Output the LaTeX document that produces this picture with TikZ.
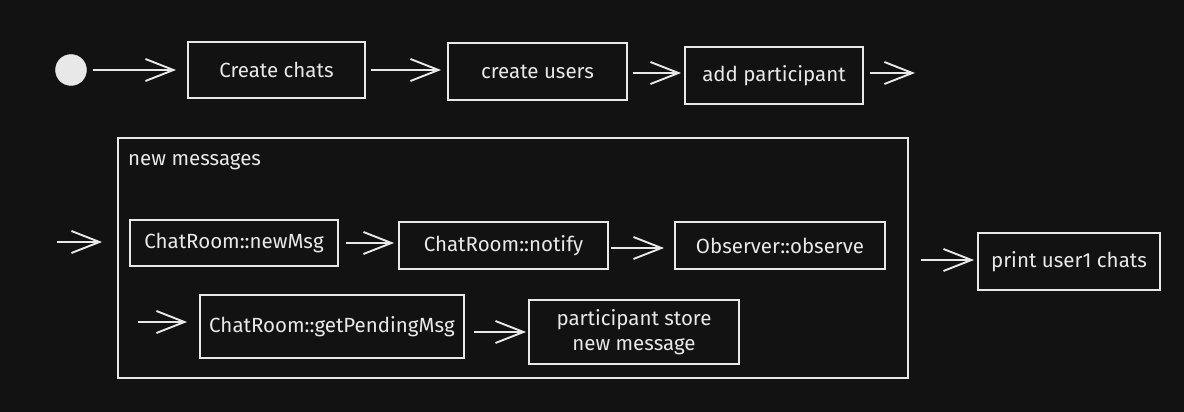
\documentclass[tikz,border=0pt]{standalone}
\usepackage{fontspec}
\setmainfont{Fira Sans}
\usetikzlibrary{arrows.meta}
\definecolor{bg}{HTML}{121212}
\definecolor{ink}{HTML}{E8E8E8}
\begin{document}
\begin{tikzpicture}[x=1pt,y=-1pt,
  every node/.style={text=ink,font=\fontsize{20.5}{25}\selectfont},
  box/.style={draw=ink,line width=1.9pt,fill=bg,inner sep=2pt,align=center},
  flow/.style={draw=ink,line width=1.9pt,-{Straight Barb[length=28pt,width=22pt,line width=1.9pt]}},
]
\fill[bg] (0,0) rectangle (1184,412);
\useasboundingbox (0,0) rectangle (1184,412);

% top row
\node[circle,fill=ink,draw=ink,minimum size=31pt,inner sep=0pt] (start) at (71,70) {};
\node[box,minimum width=177pt,minimum height=56pt] (chats) at (276.5,70) {Create chats};
\node[box,minimum width=179pt,minimum height=57pt] (users) at (537.5,71.5) {create users};
\node[box,minimum width=178pt,minimum height=57pt] (part) at (774,75.5) {add participant};
\coordinate (topend) at (915,73);

\draw[flow,shorten <=6pt,shorten >=11pt] (start.east) -- (chats.west |- start.east);
\draw[flow,shorten <=5pt,shorten >=6pt] (chats.east) -- (users.west |- chats.east);
\draw[flow,shorten <=5pt,shorten >=3pt] (users.east |- 0,73) -- (part.west |- 0,73);
\draw[flow,shorten <=6pt] (part.east |- topend) -- (topend);

% frame
\node[draw=ink,line width=1.9pt,minimum width=790pt,minimum height=240pt,inner sep=0pt] (frame) at (513,258) {};
\node[anchor=west,inner sep=0pt] (framelabel) at (128,162) {new messages};
\coordinate (inA) at (57,242);
\coordinate (inB) at (138,322);

\node[box,minimum width=208pt,minimum height=46pt] (newmsg) at (234,243) {ChatRoom::newMsg};
\node[box,minimum width=209pt,minimum height=47pt] (notify) at (503.5,245.5) {ChatRoom::notify};
\node[box,minimum width=210pt,minimum height=47pt] (observe) at (780,245.5) {Observer::observe};
\node[box,minimum width=264pt,minimum height=63pt] (pending) at (332,326.5) {ChatRoom::getPendingMsg};
\node[box,minimum width=210pt,minimum height=64pt] (store) at (634,332) {participant store\\new message};
\node[box,minimum width=182pt,minimum height=57pt] (print) at (1069,261.5) {print user1 chats};

\draw[flow,shorten >=15pt] (inA) -- (frame.west |- inA);
\draw[flow,shorten <=7pt,shorten >=4pt] (newmsg.east) -- (notify.west |- newmsg.east);
\draw[flow,shorten <=2pt,shorten >=10pt] (notify.east |- 0,248) -- (observe.west |- 0,248);
\draw[flow,shorten >=12pt] (inB) -- (pending.west |- inB);
\draw[flow,shorten <=9pt,shorten >=2pt] (pending.east |- 0,332) -- (store.west |- 0,332);
\draw[flow,shorten <=12pt,shorten >=3pt] (frame.east |- 0,260) -- (print.west |- 0,260);
\end{tikzpicture}
\end{document}
